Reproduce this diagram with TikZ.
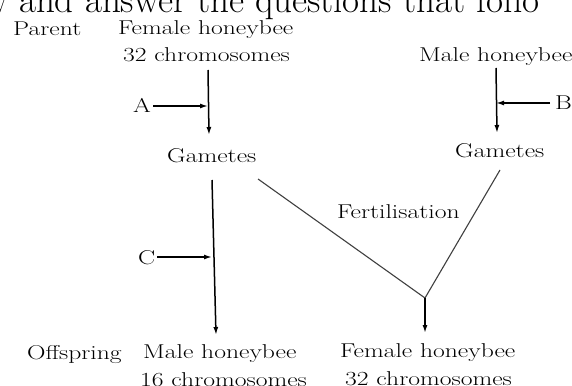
\documentclass[tikz,border=0pt]{standalone}
\usetikzlibrary{arrows.meta}
\newcommand\sx[1]{\scalebox{1.28}[1]{#1}}
\begin{document}
\begin{tikzpicture}[x=1pt,y=-1pt,
  lbl/.style={inner sep=0pt, anchor=base west, font=\fontsize{20}{24}\selectfont},
  conn/.style={line width=1.5pt, black},
  arr/.style={conn, -{Latex[length=8pt,width=5pt]}},
  diag/.style={line width=1.1pt, black!75}]
\useasboundingbox (0,0) rectangle (572,385);
\clip (0,0) rectangle (572,385);
\fill[white] (0,0) rectangle (572,385);
% cut-off heading
\node[inner sep=0pt, anchor=base west, font=\fontsize{37}{40}\selectfont] (head) at (-17,13) {w and answer the questions that follo};
% labels
\node[lbl] (parent) at (13,36) {\sx{Parent}};
\node[lbl] (fem1) at (118,35) {\sx{Female honeybee}};
\node[lbl] (fem2) at (123,62) {\sx{32 chromosomes}};
\node[lbl] (male1) at (419,62) {\sx{Male honeybee}};
\node[lbl] (A) at (133,113) {\sx{A}};
\node[lbl] (B) at (555,110) {\sx{B}};
\node[lbl] (gamL) at (167,162) {\sx{Gametes}};
\node[lbl] (gamR) at (455,157) {\sx{Gametes}};
\node[lbl] (fert) at (337,218) {\sx{Fertilisation}};
\node[lbl] (C) at (138,264) {\sx{C}};
\node[lbl] (off) at (27,359) {\sx{Offspring}};
\node[lbl] (om1) at (143,358) {\sx{Male honeybee}};
\node[lbl] (om2) at (140,386) {\sx{16 chromosomes}};
\node[lbl] (of1) at (340,357) {\sx{Female honeybee}};
\node[lbl] (of2) at (345,385) {\sx{32 chromosomes}};
% connector points
\coordinate (fTop) at (208,70);
\coordinate (fBot) at (209,135);
\coordinate (mTop) at (496,68);
\coordinate (mBot) at (497,133);
\coordinate (lTop) at (212,180);
\coordinate (lBot) at (216,335);
\coordinate (dL) at (258,179);
\coordinate (dR) at (500,170);
\coordinate (join) at (425,298);
\coordinate (jBot) at (425,333);
\coordinate (aS) at (153,106);
\coordinate (bS) at (550,103);
\coordinate (cS) at (157,257);
% connectors
\draw[arr] (fTop) -- (fBot);
\draw[arr] (mTop) -- (mBot);
\draw[arr] (aS) -- (aS -| fTop);
\draw[arr] (bS) -- (bS -| mTop);
\draw[arr] (lTop) -- (lBot);
\draw[arr] (cS) -- (cS -| lTop);
\draw[diag] (dL) -- (join) -- (dR);
\draw[arr] (join) -- (jBot);
\end{tikzpicture}
\end{document}
